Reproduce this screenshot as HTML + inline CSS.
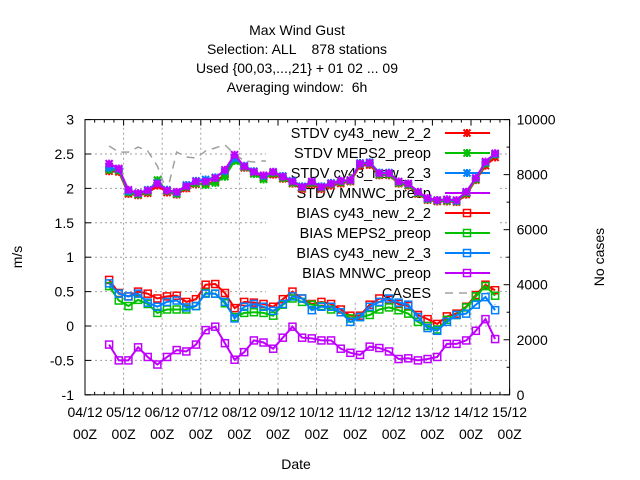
<!DOCTYPE html>
<html><head><meta charset="utf-8"><style>
html,body{margin:0;padding:0;background:#fff;}
svg{display:block;font-family:"Liberation Sans",sans-serif;}
svg text{white-space:pre;}
</style></head><body>
<svg id="chart" width="640" height="480" viewBox="0 0 640 480" xmlns="http://www.w3.org/2000/svg" xml:space="preserve">
<g font-size="14" text-anchor="middle" fill="#000">
<text x="297" y="35">Max Wind Gust</text>
<text x="297" y="54">Selection: ALL    878 stations</text>
<text x="297" y="73">Used {00,03,...,21} + 01 02 ... 09</text>
<text x="297" y="92">Averaging window:  6h</text>
</g>
<text x="22" y="257" font-size="14" text-anchor="middle" transform="rotate(-90 22 257)">m/s</text>
<text x="604" y="257" font-size="14" text-anchor="middle" transform="rotate(-90 604 257)">No cases</text>
<text x="296" y="469" font-size="14" text-anchor="middle">Date</text>
<g id="grid"></g>
<g id="cases"></g>
<rect x="266" y="123" width="234" height="179" fill="#fff"/>
<g id="legend"></g>
<g id="series"></g>
<g id="axes"></g>
</svg>
<script>
const dayLabels=["04/12","05/12","06/12","07/12","08/12","09/12","10/12","11/12","12/12","13/12","14/12","15/12"];
const yTicks=[-1,-0.5,0,0.5,1,1.5,2,2.5,3];
const y2Ticks=[0,2000,4000,6000,8000,10000];
const firstDay=0.625, stepDay=0.25;
const stdvCy43_2_2=[2.25,2.24,1.92,1.90,1.93,2.04,1.94,1.91,2.00,2.06,2.07,2.10,2.20,2.42,2.30,2.22,2.15,2.20,2.14,2.07,1.99,2.06,1.99,2.04,2.07,2.10,2.33,2.34,2.19,2.19,2.07,2.04,1.92,1.83,1.81,1.81,1.80,1.91,2.12,2.33,2.45];
const stdvMeps2=[2.27,2.26,1.94,1.91,1.95,2.12,1.96,1.92,2.02,2.07,2.05,2.08,2.17,2.40,2.31,2.21,2.13,2.22,2.15,2.08,2.01,2.08,2.01,2.06,2.09,2.11,2.35,2.36,2.20,2.20,2.08,2.05,1.93,1.84,1.82,1.82,1.81,1.93,2.13,2.36,2.49];
const stdvCy43_2_3=[2.30,2.28,1.96,1.93,1.98,2.08,1.98,1.94,2.05,2.11,2.13,2.16,2.25,2.44,2.33,2.25,2.18,2.24,2.18,2.11,2.03,2.10,2.03,2.08,2.11,2.12,2.37,2.38,2.23,2.23,2.10,2.07,1.95,1.85,1.83,1.84,1.82,1.95,2.15,2.38,2.50];
const stdvMnwc=[2.36,2.29,1.98,1.93,1.97,2.07,1.97,1.95,2.03,2.10,2.10,2.15,2.27,2.49,2.32,2.24,2.19,2.24,2.17,2.10,2.02,2.10,2.02,2.07,2.11,2.12,2.36,2.37,2.22,2.22,2.10,2.07,1.95,1.86,1.83,1.84,1.83,1.95,2.15,2.39,2.51];
const biasCy43_2_2=[0.67,0.48,0.43,0.50,0.47,0.40,0.43,0.44,0.35,0.39,0.60,0.61,0.48,0.26,0.35,0.34,0.32,0.28,0.39,0.50,0.40,0.32,0.35,0.32,0.24,0.15,0.15,0.31,0.40,0.38,0.32,0.29,0.16,0.10,0.03,0.14,0.18,0.28,0.45,0.60,0.52];
const biasMeps2=[0.58,0.37,0.29,0.38,0.32,0.19,0.24,0.24,0.24,0.29,0.48,0.47,0.33,0.13,0.19,0.20,0.19,0.15,0.31,0.40,0.35,0.31,0.29,0.24,0.20,0.11,0.13,0.16,0.24,0.27,0.23,0.18,0.06,0.00,-0.05,0.09,0.16,0.27,0.43,0.58,0.44];
const biasCy43_2_3=[0.62,0.47,0.43,0.47,0.34,0.28,0.35,0.37,0.27,0.29,0.47,0.47,0.35,0.11,0.28,0.32,0.28,0.22,0.32,0.43,0.40,0.23,0.28,0.28,0.20,0.06,0.13,0.28,0.35,0.40,0.34,0.31,0.13,-0.03,-0.07,0.06,0.16,0.18,0.31,0.42,0.23];
const biasMnwc=[-0.27,-0.50,-0.50,-0.31,-0.45,-0.56,-0.45,-0.35,-0.37,-0.27,-0.06,-0.01,-0.25,-0.49,-0.38,-0.21,-0.24,-0.33,-0.17,-0.01,-0.17,-0.18,-0.21,-0.21,-0.33,-0.39,-0.42,-0.30,-0.32,-0.37,-0.48,-0.47,-0.50,-0.48,-0.45,-0.26,-0.26,-0.21,-0.07,0.10,-0.19];
const cases=[9040,8820,8820,9000,8860,8310,7370,8820,8640,8600,8860,8970,9080,8750,8500,8460,8500,8460,8460,8460,8350,8300,8250,8300,8200,8250,8200,8150,8200,8150,8100,8150,8100,8150,7950,8020,8100,8130,7870,3810,3270];

const NS="http://www.w3.org/2000/svg";
const X0=85,X1=509.6,Y0=394.8,Y1=119.6;
function xs(d){return X0+(d/11)*(X1-X0);}
function ys(v){return Y0+(v+1)/4*(Y1-Y0);}
function ys2(v){return Y0+v/10000*(Y1-Y0);}
function mk(tag,attrs,parent){const e=document.createElementNS(NS,tag);for(const k in attrs)e.setAttribute(k,attrs[k]);parent.appendChild(e);return e;}
const grid=document.getElementById('grid'),axes=document.getElementById('axes'),series=document.getElementById('series'),legend=document.getElementById('legend'),casesG=document.getElementById('cases');

for(let i=1;i<11;i++){const l=mk('line',{x1:xs(i),x2:xs(i),y1:Y0,y2:Y1,stroke:'#a0a0a0','stroke-dasharray':'2,3','stroke-width':1},grid);

}
yTicks.forEach(v=>{if(v===-1||v===3)return;const l=mk('line',{x1:X0,x2:X1,y1:ys(v),y2:ys(v),stroke:'#a0a0a0','stroke-dasharray':'2,3','stroke-width':1},grid);

});

const fr=mk('rect',{x:X0,y:Y1,width:X1-X0,height:Y0-Y1,fill:'none',stroke:'#000','stroke-width':1},axes);


yTicks.forEach(v=>{mk('line',{x1:X0,x2:X0+6,y1:ys(v),y2:ys(v),stroke:'#000'},axes);
const t=mk('text',{x:X0-11,y:ys(v)+5,'font-size':14,'text-anchor':'end'},axes);t.textContent=String(v);

});
y2Ticks.forEach(v=>{mk('line',{x1:X1,x2:X1-6,y1:ys2(v),y2:ys2(v),stroke:'#000'},axes);
if(v<10000)mk('line',{x1:X1,x2:X1-3,y1:ys2(v+1000),y2:ys2(v+1000),stroke:'#000'},axes);
const t=mk('text',{x:X1+7,y:ys2(v)+5,'font-size':14},axes);t.textContent=String(v);

});
for(let i=0;i<=44;i++){const d=i/4,len=(i%4===0)?6:3;
mk('line',{x1:xs(d),x2:xs(d),y1:Y0,y2:Y0-len,stroke:'#000'},axes);
mk('line',{x1:xs(d),x2:xs(d),y1:Y1,y2:Y1+len,stroke:'#000'},axes);}
dayLabels.forEach((lb,i)=>{const t=mk('text',{x:xs(i),y:417,'font-size':14,'text-anchor':'middle'},axes);t.textContent=lb;


const t2=mk('text',{x:xs(i),y:439,'font-size':14,'text-anchor':'middle'},axes);t2.textContent='00Z';

});

{let pts=cases.map((v,k)=>xs(firstDay+k*stepDay).toFixed(1)+','+ys2(v).toFixed(1)).join(' ');
const p=mk('polyline',{points:pts,fill:'none',stroke:'#a0a0a0','stroke-width':1.5,'stroke-dasharray':'8,6'},casesG);

}

function star(g,x,y,c){const s=3.5;mk('path',{d:`M${x-s},${y-s}L${x+s},${y+s}M${x-s},${y+s}L${x+s},${y-s}M${x-s-0.5},${y}L${x+s+0.5},${y}M${x},${y-s-0.5}L${x},${y+s+0.5}`,stroke:c,'stroke-width':2,fill:'none'},g);}
function sq(g,x,y,c){mk('rect',{x:x-3.5,y:y-3.5,width:7,height:7,stroke:c,'stroke-width':1.5,fill:'none'},g);}
const defs=[
 ['STDV cy43_new_2_2',stdvCy43_2_2,'#ff0000',star,'stdv-cy43-new-2-2'],
 ['STDV MEPS2_preop',stdvMeps2,'#00c000',star,'stdv-meps2-preop'],
 ['STDV cy43_new_2_3',stdvCy43_2_3,'#0080ff',star,'stdv-cy43-new-2-3'],
 ['STDV MNWC_preop',stdvMnwc,'#c000ff',star,'stdv-mnwc-preop'],
 ['BIAS cy43_new_2_2',biasCy43_2_2,'#ff0000',sq,'bias-cy43-new-2-2'],
 ['BIAS MEPS2_preop',biasMeps2,'#00c000',sq,'bias-meps2-preop'],
 ['BIAS cy43_new_2_3',biasCy43_2_3,'#0080ff',sq,'bias-cy43-new-2-3'],
 ['BIAS MNWC_preop',biasMnwc,'#c000ff',sq,'bias-mnwc-preop']];
defs.forEach((d,i)=>{const [name,arr,c,m,id]=d;
 const g=mk('g',{},series);
 
 
 const pts=arr.map((v,k)=>[xs(firstDay+k*stepDay),ys(v)]);
 mk('polyline',{points:pts.map(p=>p[0].toFixed(1)+','+p[1].toFixed(1)).join(' '),fill:'none',stroke:c,'stroke-width':2},g);
 pts.forEach(p=>m(g,p[0],p[1],c));
 const ly=133+i*20;
 const lg=mk('g',{},legend);
 
 
 const t=mk('text',{x:431,y:ly+5,'font-size':14.5,'text-anchor':'end'},lg);t.textContent=name;
 mk('line',{x1:445,x2:490,y1:ly,y2:ly,stroke:c,'stroke-width':2},lg);
 m(lg,467,ly,c);
});
{const ly=293;const lg=mk('g',{},legend);


const t=mk('text',{x:431,y:ly+5,'font-size':14.5,'text-anchor':'end'},lg);t.textContent='CASES';
mk('line',{x1:445,x2:490,y1:ly,y2:ly,stroke:'#a0a0a0','stroke-width':1.5,'stroke-dasharray':'8,6'},lg);}
</script>
</body></html>
